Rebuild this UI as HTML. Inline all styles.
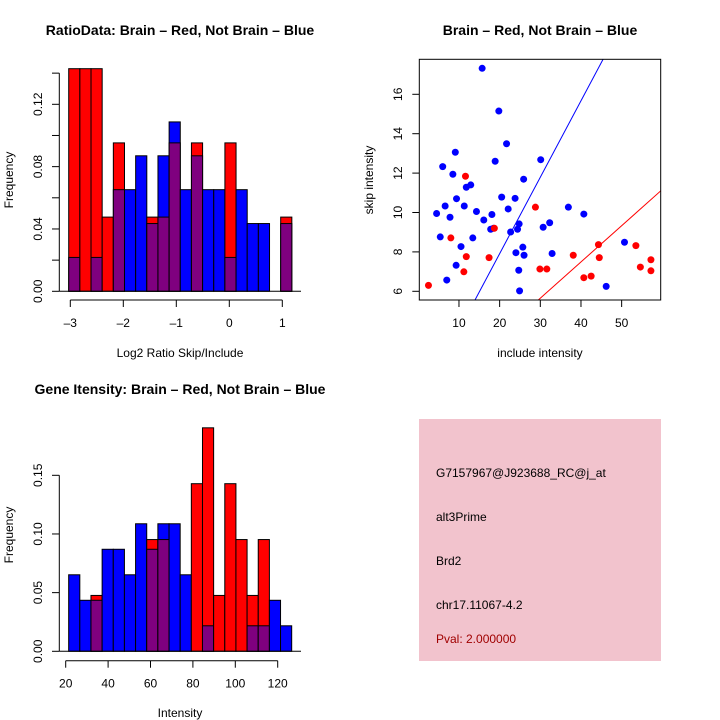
<!DOCTYPE html>
<html><head><meta charset="utf-8"><style>
html,body{margin:0;padding:0;background:#fff;}
svg{display:block;font-family:"Liberation Sans",sans-serif;}
</style></head><body>
<svg id="root" width="720" height="720" viewBox="0 0 720 720">
<rect width="720" height="720" fill="#fff"/>
<text x="180" y="35" text-anchor="middle" font-size="14" font-weight="bold">RatioData: Brain – Red, Not Brain – Blue</text>
<text x="540" y="35" text-anchor="middle" font-size="14" font-weight="bold">Brain – Red, Not Brain – Blue</text>
<text x="180" y="394" text-anchor="middle" font-size="14" font-weight="bold">Gene Itensity: Brain – Red, Not Brain – Blue</text>
<text x="180" y="357" text-anchor="middle" font-size="12">Log2 Ratio Skip/Include</text>
<text transform="translate(13,180) rotate(-90)" text-anchor="middle" font-size="12">Frequency</text>
<text x="540" y="357" text-anchor="middle" font-size="12">include intensity</text>
<text transform="translate(373,180) rotate(-90)" text-anchor="middle" font-size="12">skip intensity</text>
<text x="180" y="717" text-anchor="middle" font-size="12">Intensity</text>
<text transform="translate(13,535) rotate(-90)" text-anchor="middle" font-size="12">Frequency</text>
<g>
<rect x="419" y="419" width="242" height="242" fill="#f2c3cd"/>
<text x="436" y="477" font-size="12">G7157967@J923688_RC@j_at</text>
<text x="436" y="521" font-size="12">alt3Prime</text>
<text x="436" y="565" font-size="12">Brd2</text>
<text x="436" y="609" font-size="12">chr17.11067-4.2</text>
<text x="436" y="643" font-size="12" fill="#a00000">Pval: 2.000000</text>
</g>
<g id="g1"></g><g id="g2"></g><g id="g3"></g>
</svg>
<script>
// Ratio histogram (counts; red n=21, blue n=46)
const ratioBinStart = -3.03;
const ratioBinWidth = 0.2105;
const ratioRedCounts = [3,3,3,1,2,0,0,1,1,2,0,2,0,0,2,0,0,0,0,1];
const ratioBlueCounts = [1,0,1,0,3,3,4,2,4,5,3,4,3,3,1,3,2,2,0,2];
const ratioXTicks = [-3,-2,-1,0,1];
const ratioYTicks = [0,0.02,0.04,0.06,0.08,0.10,0.12,0.14];
const ratioYLabels = ["0.00","","0.04","","0.08","","0.12",""];
// Intensity histogram
const intBinStart = 21.4;
const intBinWidth = 5.26;
const intRedCounts = [0,0,1,0,0,0,0,2,2,0,0,3,4,1,3,2,1,2,0,0];
const intBlueCounts = [3,2,2,4,4,3,5,4,5,5,3,0,1,0,0,0,1,1,2,1];
const intXTicks = [20,40,60,80,100,120];
const intYTicks = [0,0.05,0.10,0.15];
const intYLabels = ["0.00","0.05","0.10","0.15"];
// Scatter
const blueX = [15.7,19.8,21.7,9.1,30.1,18.9,6.0,8.5,25.9,12.9,11.8,9.4,20.5,23.8,6.6,11.3,22.1,36.9,40.7,4.5,14.3,7.8,18.1,16.1,32.3,24.8,30.7,17.8,18.5,24.4,22.7,5.4,13.4,10.5,25.7,50.7,24.0,32.9,26.0,9.3,24.7,7.0,46.2,24.9];
const blueY = [17.32,15.15,13.49,13.06,12.68,12.6,12.33,11.94,11.69,11.40,11.28,10.70,10.78,10.72,10.33,10.33,10.18,10.27,9.92,9.95,10.05,9.76,9.9,9.62,9.48,9.42,9.25,9.15,9.2,9.15,9.01,8.76,8.71,8.27,8.24,8.49,7.96,7.92,7.83,7.32,7.07,6.57,6.25,6.02];
const redX = [11.6,28.8,18.7,8.0,11.8,17.4,11.2,2.5,29.9,31.6,38.1,44.3,44.5,40.7,42.5,53.5,54.6,57.2,57.2];
const redY = [11.84,10.27,9.2,8.71,7.76,7.71,6.99,6.30,7.13,7.13,7.83,8.37,7.71,6.69,6.77,8.32,7.23,7.6,7.04];
const scatterXTicks = [10,20,30,40,50];
const scatterYTicks = [6,8,10,12,14,16];
const blueLine = [0.388, 0.15];
const redLine = [0.184, 0.13];

const NS="http://www.w3.org/2000/svg";
function mk(p,t,a){const e=document.createElementNS(NS,t);for(const k in a)e.setAttribute(k,a[k]);p.appendChild(e);return e;}

function hist(g,o){
  const sx=v=>o.x0+(v-o.xv0)*o.xs, sy=v=>o.y0-v*o.ys;
  const nR=o.red.reduce((a,b)=>a+b,0), nB=o.blue.reduce((a,b)=>a+b,0);
  for(let i=0;i<o.red.length;i++){
    const l=sx(o.start+i*o.w), r=sx(o.start+(i+1)*o.w);
    const fr=o.red[i]/nR, fb=o.blue[i]/nB;
    if(fr===0&&fb===0) continue;
    const hi=Math.max(fr,fb), lo=Math.min(fr,fb);
    const c=fr>fb?'#ff0000':'#0000ff';
    const b=mk(g,'rect',{x:l,y:sy(hi),width:r-l,height:sy(0)-sy(hi),fill:c,stroke:'#000','stroke-width':1});
    
    
    if(lo>0){
      const p=mk(g,'rect',{x:l,y:sy(lo),width:r-l,height:sy(0)-sy(lo),fill:'#7f007f',stroke:'#000','stroke-width':1});
      
      
    }
  }
  mk(g,'line',{x1:59.3,x2:301,y1:o.y0,y2:o.y0,stroke:'#000'});
  // x axis
  const xa=mk(g,'g',{});
  
  
  mk(xa,'line',{x1:sx(o.xt[0]),x2:sx(o.xt[o.xt.length-1]),y1:o.ax,y2:o.ax,stroke:'#000'});
  o.xt.forEach(t=>{mk(xa,'line',{x1:sx(t),x2:sx(t),y1:o.ax,y2:o.ax+7,stroke:'#000'});
    const tx=mk(xa,'text',{x:sx(t),y:o.ax+27,'text-anchor':'middle','font-size':12});tx.textContent=String(t).replace('-','–');});
  const ya=mk(g,'g',{});
  
  
  mk(ya,'line',{x1:59.3,x2:59.3,y1:sy(o.yt[0]),y2:sy(o.yt[o.yt.length-1]),stroke:'#000'});
  o.yt.forEach((t,i)=>{mk(ya,'line',{x1:52,x2:59.3,y1:sy(t),y2:sy(t),stroke:'#000'});
    if(o.yl[i]){const tx=mk(ya,'text',{transform:`translate(42,${sy(t)}) rotate(-90)`,'text-anchor':'middle','font-size':12});tx.textContent=o.yl[i];}});
}
hist(document.getElementById('g1'),{name:'ratio',x0:70.3,xv0:-3,xs:53,y0:291.3,ys:1558.3,start:ratioBinStart,w:ratioBinWidth,red:ratioRedCounts,blue:ratioBlueCounts,xt:ratioXTicks,yt:ratioYTicks,yl:ratioYLabels,ax:300});
hist(document.getElementById('g3'),{name:'intensity',x0:65.7,xv0:20,xs:2.12,y0:651.3,ys:1173.3,start:intBinStart,w:intBinWidth,red:intRedCounts,blue:intBlueCounts,xt:intXTicks,yt:intYTicks,yl:intYLabels,ax:660.7});

(function(){
  const g=document.getElementById('g2');
  const sx=v=>418.3+v*4.067, sy=v=>291.3-(v-6)*19.7;
  const L=419.3,R=660.7,T=59.3,B=300;
  mk(g,'defs',{}).innerHTML='<clipPath id="cp"><rect x="'+L+'" y="'+T+'" width="'+(R-L)+'" height="'+(B-T)+'"/></clipPath>';
  const cl=mk(g,'g',{'clip-path':'url(#cp)'});
  const x1=-1,x2=70;
  const bl=mk(cl,'line',{x1:sx(x1),x2:sx(x2),y1:sy(blueLine[0]*x1+blueLine[1]),y2:sy(blueLine[0]*x2+blueLine[1]),stroke:'#0000ff'});
  
  
  const rl=mk(cl,'line',{x1:sx(x1),x2:sx(x2),y1:sy(redLine[0]*x1+redLine[1]),y2:sy(redLine[0]*x2+redLine[1]),stroke:'#ff0000'});
  
  
  blueX.forEach((v,i)=>{const c=mk(cl,'circle',{cx:sx(v),cy:sy(blueY[i]),r:3.5,fill:'#0000ff'});
    
    });
  redX.forEach((v,i)=>{const c=mk(cl,'circle',{cx:sx(v),cy:sy(redY[i]),r:3.5,fill:'#ff0000'});
    
    });
  const box=mk(g,'rect',{x:L,y:T,width:R-L,height:B-T,fill:'none',stroke:'#000'});
  
  
  scatterXTicks.forEach(t=>{mk(g,'line',{x1:sx(t),x2:sx(t),y1:B,y2:B+7,stroke:'#000'});
    const tx=mk(g,'text',{x:sx(t),y:B+27,'text-anchor':'middle','font-size':12});tx.textContent=t;
    
    });
  scatterYTicks.forEach(t=>{mk(g,'line',{x1:L-7,x2:L,y1:sy(t),y2:sy(t),stroke:'#000'});
    const tx=mk(g,'text',{transform:`translate(402,${sy(t)}) rotate(-90)`,'text-anchor':'middle','font-size':12});tx.textContent=t;
    
    });
})();
</script>
</body></html>
